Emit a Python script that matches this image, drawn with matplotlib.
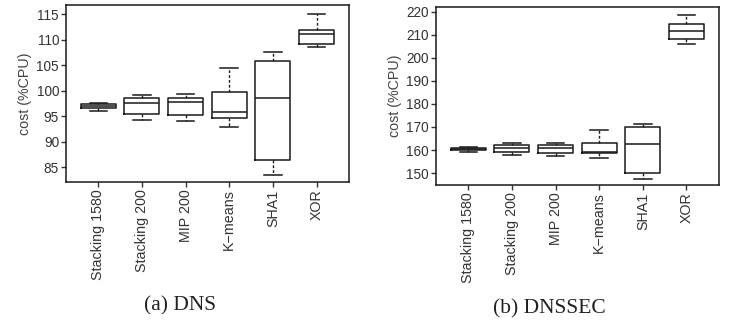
import matplotlib.pyplot as plt

labels = ["Stacking 1580", "Stacking 200", "MIP 200", "K\u2212means", "SHA1", "XOR"]

# whisker low, q1, median, q3, whisker high
dns_lo = [96.0, 94.2, 94.1, 92.9, 83.4, 108.5]
dns_q1 = [96.6, 95.4, 95.3, 94.7, 86.5, 109.2]
dns_med = [96.9, 97.6, 97.7, 95.9, 98.5, 111.1]
dns_q3 = [97.3, 98.6, 98.5, 99.8, 105.7, 111.9]
dns_hi = [97.6, 99.1, 99.3, 104.5, 107.6, 115.0]

sec_lo = [159.3, 157.8, 157.5, 156.6, 147.4, 206.1]
sec_q1 = [160.1, 159.3, 158.7, 158.5, 150.0, 208.3]
sec_med = [160.6, 161.0, 161.0, 159.2, 162.5, 211.8]
sec_q3 = [161.0, 162.2, 162.1, 163.2, 169.8, 214.7]
sec_hi = [161.5, 163.2, 163.2, 168.6, 171.1, 218.5]

plt.rcParams['font.family'] = ['Liberation Sans', 'DejaVu Sans']


def stats(lo, q1, med, q3, hi):
    return [dict(whislo=a, q1=b, med=c, q3=d, whishi=e, fliers=[])
            for a, b, c, d, e in zip(lo, q1, med, q3, hi)]


def draw(ax, st, ylim, yticks):
    col = '#1a1a1a'
    ax.bxp(st, positions=range(1, 7), widths=0.8, capwidths=0.4,
           showfliers=False,
           boxprops=dict(color=col, lw=1.1),
           medianprops=dict(color=col, lw=1.1),
           whiskerprops=dict(color=col, lw=1.0, ls=(0, (2, 1.5))),
           capprops=dict(color=col, lw=1.1))
    ax.set_xlim(0.26, 6.74)
    ax.set_ylim(*ylim)
    ax.set_yticks(yticks)
    ax.set_xticks(range(1, 7))
    ax.set_xticklabels(labels, rotation=90, fontsize=10.3)
    ax.tick_params(axis='y', labelsize=9.8, pad=1.5)
    ax.tick_params(axis='x', pad=2)
    ax.tick_params(colors='#333333', length=3.5, width=1.0)
    ax.set_ylabel('cost (%CPU)', fontsize=10.3, color='#444444', labelpad=3)
    for s in ax.spines.values():
        s.set_linewidth(1.1)
        s.set_color(col)


fig = plt.figure(figsize=(7.29, 3.33), dpi=100)
ax1 = fig.add_axes([0.0905, 0.4535, 0.388, 0.532])
ax2 = fig.add_axes([0.598, 0.445, 0.388, 0.535])

draw(ax1, stats(dns_lo, dns_q1, dns_med, dns_q3, dns_hi), (82.1, 116.8), range(85, 116, 5))
draw(ax2, stats(sec_lo, sec_q1, sec_med, sec_q3, sec_hi), (144.9, 222.2), range(150, 221, 10))

fig.text(0.247, 0.082, '(a) DNS', ha='center', va='center', fontsize=15.5,
         family='Liberation Serif', color='#222222')
fig.text(0.754, 0.072, '(b) DNSSEC', ha='center', va='center', fontsize=15.5,
         family='Liberation Serif', color='#222222')

fig.savefig('out.png', dpi=100)
